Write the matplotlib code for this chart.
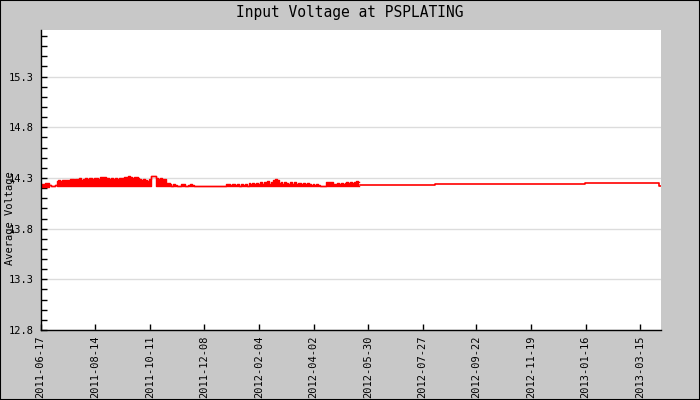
import numpy as np
import matplotlib
matplotlib.use('Agg')
import matplotlib.pyplot as plt
from matplotlib.patches import Rectangle

start = np.datetime64('2011-06-17')
last_day = 659  # right edge of the plot, days after start

tick_labels = ['2011-06-17', '2011-08-14', '2011-10-11', '2011-12-08', '2012-02-04',
               '2012-04-02', '2012-05-30', '2012-07-27', '2012-09-22', '2012-11-19',
               '2013-01-16', '2013-03-15']

# noisy logging period, one reading pair every 2 days (days after start)
noisy_days = np.arange(0, 340, 2)
high = [14.243, 14.245, 14.240, 14.253, 14.250,
        14.232, 14.225, 14.222, 14.226,
        14.270,
        14.278, 14.272, 14.280, 14.276, 14.282, 14.279,
        14.285, 14.290, 14.280, 14.294, 14.288, 14.296, 14.284, 14.292,
        14.298, 14.289, 14.295, 14.300, 14.291, 14.297, 14.302, 14.293,
        14.310, 14.306, 14.312, 14.300,
        14.296, 14.290, 14.302, 14.294, 14.299, 14.288, 14.300, 14.295, 14.303,
        14.312, 14.305, 14.315, 14.308, 14.300, 14.313, 14.306, 14.298,
        14.290, 14.284, 14.292, 14.280, 14.272, 14.285,
        14.318, 14.318, 14.318,
        14.296, 14.290, 14.300, 14.288, 14.294,
        14.255, 14.250, 14.245,
        14.216, 14.240, 14.232, 14.216, 14.216, 14.236, 14.240, 14.216, 14.216,
        14.226, 14.238, 14.232, 14.216,
        14.216, 14.216, 14.216, 14.216, 14.216, 14.216, 14.216, 14.216,
        14.216, 14.216, 14.216, 14.216, 14.216, 14.216, 14.216, 14.216,
        14.236, 14.243, 14.230, 14.240, 14.236, 14.228, 14.238,
        14.216,
        14.236, 14.230, 14.236, 14.224,
        14.248, 14.240, 14.255, 14.236, 14.250, 14.244, 14.256, 14.238,
        14.262, 14.250, 14.266, 14.244, 14.258,
        14.280, 14.290, 14.276,
        14.250, 14.260, 14.240, 14.264, 14.248, 14.238, 14.258, 14.245,
        14.262, 14.240, 14.252,
        14.250, 14.238, 14.255, 14.242, 14.248,
        14.236, 14.230, 14.240, 14.226, 14.236, 14.232,
        14.216, 14.216, 14.216,
        14.262, 14.265, 14.258, 14.260,
        14.245, 14.240, 14.250, 14.236, 14.248, 14.242, 14.246,
        14.258, 14.252, 14.262, 14.250, 14.264, 14.270, 14.260]
low = ([14.210] * 5 + [14.232, 14.225, 14.222, 14.226] + [14.216] * 50
       + [14.318] * 3 + [14.216] * 108)

# flat readings afterwards
tail_days = [339, 419, 578, 657, 659]
tail_vals = [14.226, 14.236, 14.246, 14.222, 14.222]

tick_days = [(np.datetime64(t) - start).astype(int) for t in tick_labels]

mono = 'DejaVu Sans Mono'
fig = plt.figure(figsize=(7, 4), dpi=100, facecolor='#c8c8c8')
ax = fig.add_axes([0.058, 0.175, 0.886, 0.75])
ax.set_facecolor('white')

ax.fill_between(noisy_days, low, high, step='mid', color='red', lw=0)
ax.step(noisy_days, high, where='mid', color='red', lw=1)
ax.step(noisy_days, low, where='mid', color='red', lw=1)
ax.step(tail_days, tail_vals, where='post', color='red', lw=1.2)

ax.set_xlim(0, last_day)
ax.set_ylim(12.8, 15.76)
ax.set_yticks(np.arange(12.8, 15.31, 0.5))
ax.set_yticks(np.arange(12.8, 15.76, 0.1), minor=True)
ax.set_yticklabels(['%.1f' % v for v in np.arange(12.8, 15.31, 0.5)], family=mono, fontsize=7.5)
ax.set_xticks(tick_days)
ax.set_xticklabels(tick_labels, rotation=90, family=mono, fontsize=7.5)
ax.tick_params(axis='both', which='both', direction='in', length=4, width=1, color='black', pad=5)
ax.tick_params(axis='x', pad=4)
ax.grid(axis='y', which='major', color='#dcdcdc', lw=1)
ax.set_axisbelow(True)
for s in ['top', 'right']:
    ax.spines[s].set_visible(False)
for s in ['left', 'bottom']:
    ax.spines[s].set_color('black')
    ax.spines[s].set_linewidth(1)

fig.text(0.5, 0.97, 'Input Voltage at PSPLATING', ha='center', va='center', family=mono,
         fontsize=10.5)
fig.text(0.014, 0.455, 'Average Voltage', rotation=90, ha='center', va='center', family=mono,
         fontsize=7.5)
fig.patches.append(Rectangle((0, 0), 1, 1, transform=fig.transFigure, fill=False,
                             edgecolor='black', lw=1.5))

fig.savefig('out.png', dpi=100, facecolor=fig.get_facecolor())
